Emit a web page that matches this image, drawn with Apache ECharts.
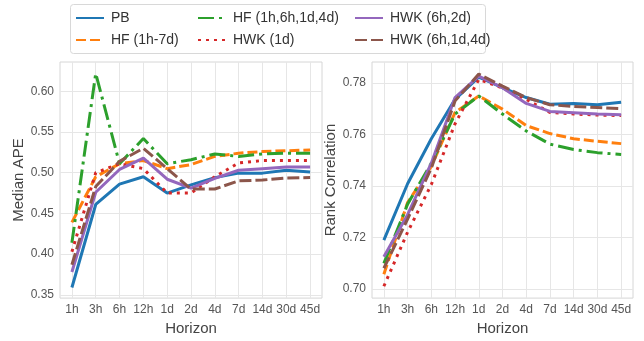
<!DOCTYPE html>
<html>
<head>
<meta charset="utf-8">
<script src="https://cdn.jsdelivr.net/npm/echarts@6/dist/echarts.min.js"></script>
<style>
  html, body { margin: 0; padding: 0; background: #fff; }
  #chart { width: 644px; height: 341px; }
</style>
</head>
<body>
<div id="chart"></div>
<script>
const horizons = ['1h', '3h', '6h', '12h', '1d', '2d', '4d', '7d', '14d', '30d', '45d']

const apeTicks  = [0.35, 0.40, 0.45, 0.50, 0.55, 0.60]
const corrTicks = [0.70, 0.72, 0.74, 0.76, 0.78]

// Median APE per model
const apePB     = [0.359, 0.461, 0.486, 0.495, 0.475, 0.485, 0.494, 0.4995, 0.4995, 0.503, 0.501]
const apeHF7d   = [0.439, 0.495, 0.511, 0.515, 0.505, 0.510, 0.520, 0.524, 0.526, 0.527, 0.528]
const apeHF4    = [0.414, 0.622, 0.511, 0.542, 0.511, 0.516, 0.523, 0.520, 0.523, 0.524, 0.524]
const apeHWK1d  = [0.403, 0.500, 0.511, 0.505, 0.475, 0.475, 0.495, 0.512, 0.515, 0.515, 0.515]
const apeHWK2   = [0.378, 0.476, 0.504, 0.518, 0.492, 0.481, 0.493, 0.503, 0.505, 0.507, 0.507]
const apeHWK3   = [0.387, 0.483, 0.514, 0.530, 0.505, 0.480, 0.480, 0.490, 0.491, 0.4935, 0.494]

// Rank correlation per model
const corrPB    = [0.7189, 0.7408, 0.7583, 0.7736, 0.7822, 0.7781, 0.7743, 0.7717, 0.7720, 0.7715, 0.7725]
const corrHF7d  = [0.7057, 0.7335, 0.7475, 0.7685, 0.7749, 0.7698, 0.7634, 0.7603, 0.7583, 0.7573, 0.7564]
const corrHF4   = [0.7099, 0.7329, 0.7488, 0.7679, 0.7749, 0.7679, 0.7613, 0.7562, 0.7541, 0.7529, 0.7522]
const corrHWK1d = [0.7010, 0.7220, 0.7405, 0.7641, 0.7813, 0.7780, 0.7736, 0.7685, 0.7679, 0.7675, 0.7673]
const corrHWK2  = [0.7125, 0.7288, 0.7488, 0.7743, 0.7826, 0.7781, 0.7720, 0.7689, 0.7684, 0.7679, 0.7676]
const corrHWK3  = [0.7080, 0.7271, 0.7469, 0.7730, 0.7834, 0.7787, 0.7743, 0.7715, 0.7708, 0.7704, 0.7700]

const models = [
  { name: 'PB',               color: '#1f77b4', type: 'solid',         ape: apePB,    corr: corrPB },
  { name: 'HF (1h-7d)',       color: '#ff7f0e', type: [10, 4],         ape: apeHF7d,  corr: corrHF7d },
  { name: 'HF (1h,6h,1d,4d)', color: '#2ca02c', type: [16, 5, 3, 5],   ape: apeHF4,   corr: corrHF4 },
  { name: 'HWK (1d)',         color: '#d62728', type: [3, 5],          ape: apeHWK1d, corr: corrHWK1d },
  { name: 'HWK (6h,2d)',      color: '#9467bd', type: 'solid',         ape: apeHWK2,  corr: corrHWK2 },
  { name: 'HWK (6h,1d,4d)',   color: '#8c564b', type: [12, 4],         ape: apeHWK3,  corr: corrHWK3 },
]

const font = 'Liberation Sans, Arial, sans-serif'
const gridColor = '#e6e6e6'

const xAxis = idx => ({
  type: 'category', gridIndex: idx, data: horizons, boundaryGap: true,
  name: 'Horizon', nameLocation: 'middle', nameGap: 22,
  nameTextStyle: { color: '#444', fontSize: 15, fontFamily: font },
  axisLine: { show: false }, axisTick: { show: false },
  axisLabel: { color: '#555', fontSize: 12, fontFamily: font, margin: 6, interval: 0 },
  splitLine: { show: true, alignWithLabel: true, lineStyle: { color: gridColor, width: 1 } },
})

const yAxis = (idx, name, ticks, min, max, gap) => ({
  type: 'value', gridIndex: idx, min, max,
  name, nameLocation: 'middle', nameGap: gap,
  nameTextStyle: { color: '#444', fontSize: 15, fontFamily: font },
  axisLine: { show: false },
  axisTick: { show: false, customValues: ticks },
  axisLabel: { color: '#555', fontSize: 12, fontFamily: font, margin: 6,
    customValues: ticks, formatter: v => v.toFixed(2) },
  splitLine: { show: true, lineStyle: { color: gridColor, width: 1 } },
})

const series = []
models.forEach(m => {
  [['ape', 0], ['corr', 1]].forEach(([key, i]) => {
    series.push({
      name: m.name, type: 'line', xAxisIndex: i, yAxisIndex: i,
      data: m[key], symbol: 'none', smooth: false,
      lineStyle: { color: m.color, width: 3, type: m.type, cap: 'butt' },
      itemStyle: { color: m.color },
      z: 3,
    })
  })
})

const legendCol = (left, names) => ({
  orient: 'vertical', left, top: 6, itemGap: 8,
  itemWidth: 28, itemHeight: 15,
  data: names,
  itemStyle: { opacity: 0 },
  textStyle: { color: '#333', fontSize: 14, fontFamily: font, padding: [0, 0, 0, 2] },
})

const chart = echarts.init(document.getElementById('chart'), null, { renderer: 'canvas' })
chart.setOption({
  backgroundColor: '#fff',
  animation: false,
  grid: [
    { left: 60, right: 322, top: 62, bottom: 39, show: true, borderColor: '#d6d6d6', borderWidth: 1 },
    { left: 372, right: 11, top: 62, bottom: 39, show: true, borderColor: '#d6d6d6', borderWidth: 1 },
  ],
  xAxis: [xAxis(0), xAxis(1)],
  yAxis: [
    yAxis(0, 'Median APE', apeTicks, 0.346, 0.636, 32),
    yAxis(1, 'Rank Correlation', corrTicks, 0.6964, 0.7881, 30),
  ],
  legend: [
    legendCol(70, ['PB', 'HF (1h-7d)']),
    legendCol(192, ['HF (1h,6h,1d,4d)', 'HWK (1d)']),
    legendCol(349, ['HWK (6h,2d)', 'HWK (6h,1d,4d)']),
  ],
  graphic: [{
    type: 'rect', left: 70, top: 4,
    shape: { width: 415, height: 49, r: 3 },
    style: { fill: 'rgba(255,255,255,0.8)', stroke: '#d8d8d8', lineWidth: 1 },
    z: -1,
  }],
  series,
})
</script>
</body>
</html>
